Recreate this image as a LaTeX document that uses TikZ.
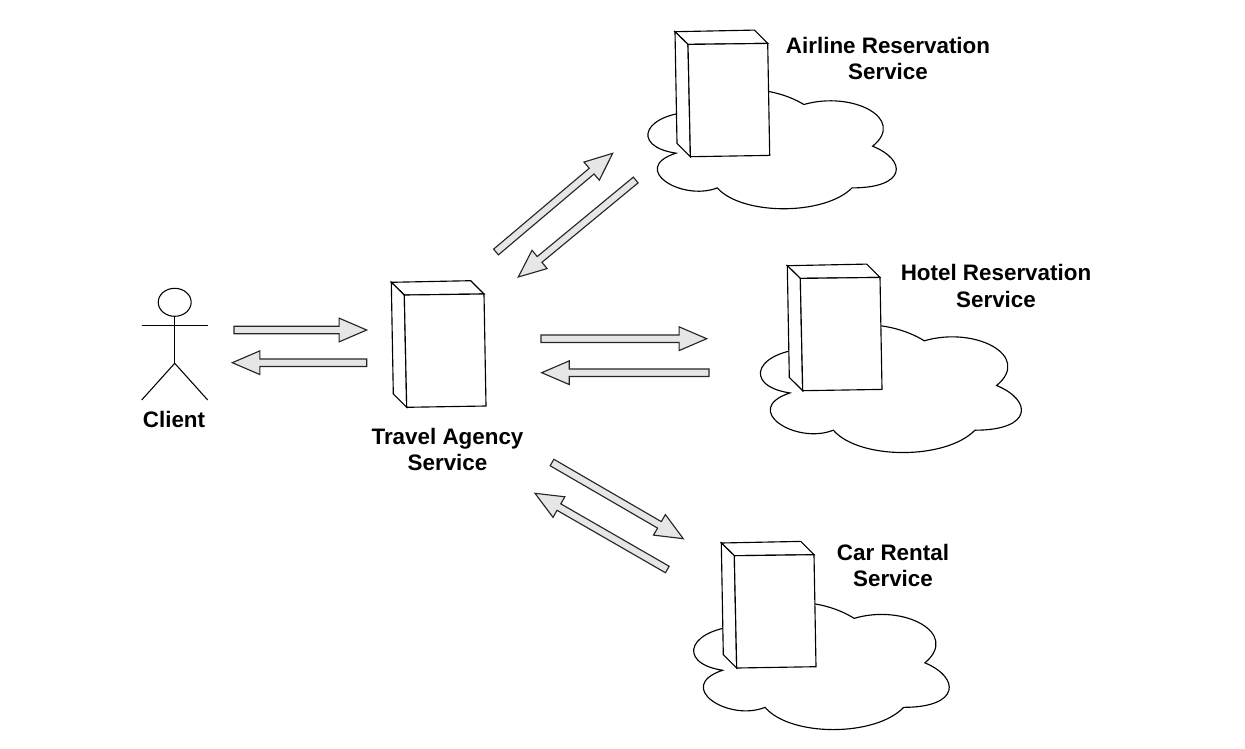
\documentclass[tikz,border=0pt]{standalone}
\usepackage{fontspec}
\setmainfont{Liberation Sans}
\usetikzlibrary{calc,shapes.geometric}

\definecolor{arrowgray}{HTML}{E6E6E6}

\tikzset{
    outline/.style={draw=black, line width=0.85pt, line join=miter, fill=white},
    arrowbody/.style={draw=black!85, line width=0.85pt, fill=arrowgray},
    stickline/.style={draw=black, line width=0.8pt},
    servicelabel/.style={align=center, font=\fontsize{16.8}{19.9}\selectfont\bfseries, inner sep=0pt},
    pics/server/.style={code={
        \draw [outline] (0,0) -- (79.4,-1.6) -- (92.7,11.7) -- (13,12.7) -- cycle;
        \draw [outline] (0,0) -- (13,12.7) -- (15.4,125) -- (2,111.7) -- cycle;
        \draw [outline] (13,12.7) -- (92.7,11.7) -- (94.7,123.7) -- (15.4,125) -- cycle;
    }},
    pics/cloud/.style={code={
        \draw [outline] (0.25,0.25)
            .. controls (0.04,0.25) and (-0.01,0.5) .. (0.16,0.55)
            .. controls (-0.012,0.66) and (0.18,0.9) .. (0.31,0.8)
            .. controls (0.4,1) and (0.7,1) .. (0.8,0.8)
            .. controls (1,0.8) and (1,0.6) .. (0.875,0.5)
            .. controls (1,0.3) and (0.8,0.1) .. (0.625,0.2)
            .. controls (0.5,0.05) and (0.3,0.05) .. (0.25,0.25) -- cycle;
    }}
}

% block arrow from tail #1 to tip #2
\newcommand{\blockarrow}[2]{
    \coordinate (hb) at ($(#2)!20.7pt!(#1)$);
    \draw [arrowbody] ($(#1)!2.8pt!90:(#2)$) -- ($(hb)!2.8pt!90:(#2)$) -- ($(hb)!8.9pt!90:(#2)$) -- (#2)
        -- ($(hb)!8.9pt!-90:(#2)$) -- ($(hb)!2.8pt!-90:(#2)$) -- ($(#1)!2.8pt!-90:(#2)$) -- cycle;
}

\begin{document}
\begin{tikzpicture}[x=0.75pt, y=-0.75pt]
    \useasboundingbox (0,0) rectangle (1245,749);

    % clouds sit behind the servers
    \pic [xscale=275, yscale=139] at (632,76.7) {cloud};
    \pic [xscale=289, yscale=149] at (743.7,311) {cloud};
    \pic [xscale=283, yscale=148.3] at (677.3,588.7) {cloud};

    \pic at (391.3,282.3) {server};
    \pic at (675,31.7) {server};
    \pic at (787.3,265.7) {server};
    \pic at (721.3,543) {server};

    % client figure
    \node (head) at (174.7,302.3) [ellipse, stickline, minimum width=24.7pt, minimum height=21pt, inner sep=0pt] {};
    \coordinate (hip) at (174.7,363.3);
    \coordinate (armL) at (141.7,325.7);
    \coordinate (armR) at (207.7,325.7);
    \coordinate (footL) at (141.7,400);
    \coordinate (footR) at (207.7,400);
    \draw [stickline] (head.south) -- (hip);
    \draw [stickline] (armL) -- (armR);
    \draw [stickline] (footL) -- (hip) -- (footR);

    \node (client) at (174,419) [servicelabel] {Client};
    \node (agency) at (447.5,449.3) [servicelabel] {Travel Agency\\Service};
    \node (airline) at (888,58.5) [servicelabel] {Airline Reservation\\Service};
    \node (hotel) at (996,286) [servicelabel] {Hotel Reservation\\Service};
    \node (car) at (893,565.5) [servicelabel] {Car Rental\\Service};

    \coordinate (ca) at (234,330);        \coordinate (cb) at (366.7,330);
    \coordinate (ac) at (366.7,362.7);    \coordinate (ad) at (232.3,362.7);
    \coordinate (ta) at (496,252);        \coordinate (tb) at (612.7,153.3);
    \coordinate (fa) at (635.7,180);      \coordinate (fb) at (518.3,277);
    \coordinate (th) at (541,338.7);      \coordinate (ti) at (706.7,338.7);
    \coordinate (fh) at (709,372.7);      \coordinate (fi) at (541.7,372.7);
    \coordinate (tr) at (552,462.5);      \coordinate (ts) at (683.3,538.7);
    \coordinate (fr) at (667.3,569.5);    \coordinate (fs) at (535,493.3);

    \blockarrow{ca}{cb}
    \blockarrow{ac}{ad}
    \blockarrow{ta}{tb}
    \blockarrow{fa}{fb}
    \blockarrow{th}{ti}
    \blockarrow{fh}{fi}
    \blockarrow{tr}{ts}
    \blockarrow{fr}{fs}
\end{tikzpicture}
\end{document}
